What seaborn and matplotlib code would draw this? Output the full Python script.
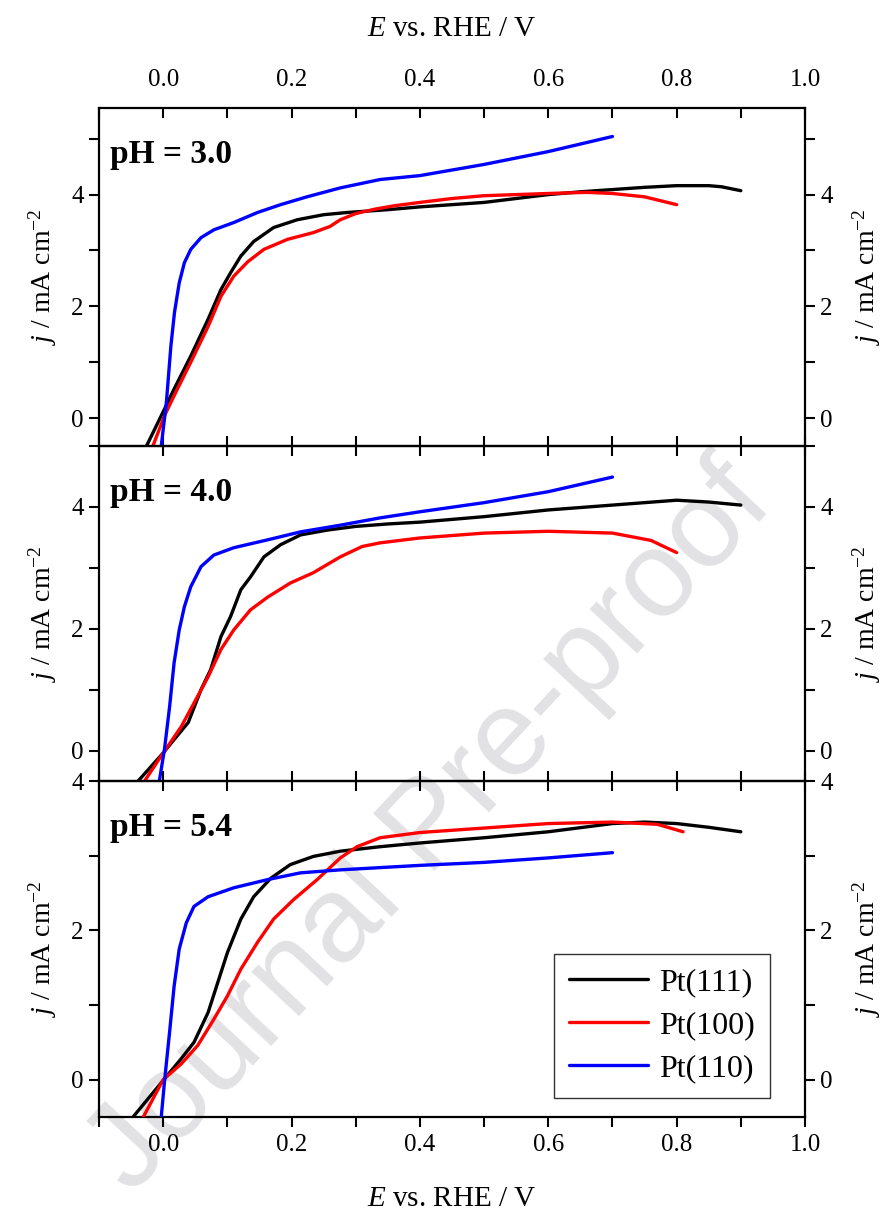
import numpy as np
import pandas as pd
import matplotlib
matplotlib.use("Agg")
import matplotlib.pyplot as plt
from matplotlib.ticker import MultipleLocator
import seaborn as sns

sns.set_theme(style="ticks")
plt.rcParams['font.family'] = ['Liberation Serif', 'DejaVu Serif']
plt.rcParams['mathtext.fontset'] = 'custom'
plt.rcParams['mathtext.rm'] = 'Liberation Serif'
plt.rcParams['mathtext.it'] = 'Liberation Serif:italic'
plt.rcParams['mathtext.bf'] = 'Liberation Serif:bold'
for key in ['text.color', 'axes.labelcolor', 'xtick.color', 'ytick.color', 'axes.edgecolor']:
    plt.rcParams[key] = 'black'

series_names = ["Pt(111)", "Pt(100)", "Pt(110)"]
series_colors = ["#000000", "#ff0000", "#0000ff"]
panel_titles = ["pH = 3.0", "pH = 4.0", "pH = 5.4"]

# ---- pH 3.0 ----
E_111_ph3 = [-0.026, 0.002, 0.017, 0.043, 0.07, 0.09, 0.105, 0.121, 0.141, 0.172, 0.209, 0.25, 0.287,
             0.35, 0.4, 0.45, 0.5, 0.55, 0.6, 0.65, 0.7, 0.75, 0.8, 0.85, 0.87, 0.9]
j_111_ph3 = [-0.5, 0.16, 0.52, 1.11, 1.77, 2.3, 2.6, 2.9, 3.16, 3.41, 3.55, 3.64, 3.68,
             3.73, 3.78, 3.82, 3.86, 3.93, 4.0, 4.05, 4.09, 4.13, 4.16, 4.16, 4.14, 4.07]
E_100_ph3 = [-0.016, 0.002, 0.017, 0.043, 0.07, 0.09, 0.11, 0.132, 0.157, 0.194, 0.234, 0.26, 0.276,
             0.3, 0.33, 0.36, 0.4, 0.45, 0.5, 0.55, 0.6, 0.66, 0.7, 0.75, 0.8]
j_100_ph3 = [-0.5, 0.04, 0.4, 1.0, 1.64, 2.18, 2.54, 2.8, 3.02, 3.2, 3.32, 3.43, 3.55,
             3.66, 3.74, 3.8, 3.86, 3.93, 3.98, 4.0, 4.02, 4.04, 4.02, 3.96, 3.82]
E_110_ph3 = [-0.003, 0.005, 0.012, 0.0176, 0.025, 0.033, 0.043, 0.059, 0.079, 0.11, 0.147, 0.183,
             0.224, 0.276, 0.338, 0.4, 0.5, 0.6, 0.7]
j_110_ph3 = [-0.5, 0.28, 1.29, 1.89, 2.42, 2.78, 3.02, 3.23, 3.37, 3.5, 3.68, 3.82,
             3.96, 4.12, 4.27, 4.34, 4.54, 4.77, 5.04]

# ---- pH 4.0 ----
E_111_ph4 = [-0.039, 0.0, 0.017, 0.039, 0.059, 0.074, 0.09, 0.105, 0.121, 0.136, 0.157, 0.183, 0.214,
             0.256, 0.3, 0.35, 0.4, 0.5, 0.6, 0.7, 0.8, 0.85, 0.9]
j_111_ph4 = [-0.5, -0.04, 0.18, 0.46, 1.0, 1.33, 1.87, 2.2, 2.64, 2.85, 3.18, 3.38, 3.54,
             3.62, 3.68, 3.72, 3.75, 3.84, 3.95, 4.03, 4.11, 4.08, 4.03]
E_100_ph4 = [-0.029, 0.0, 0.028, 0.048, 0.07, 0.09, 0.11, 0.136, 0.163, 0.198, 0.234, 0.276, 0.31,
             0.338, 0.4, 0.5, 0.6, 0.7, 0.76, 0.8]
j_100_ph4 = [-0.5, -0.04, 0.39, 0.78, 1.21, 1.66, 1.98, 2.31, 2.52, 2.75, 2.92, 3.18, 3.35,
             3.41, 3.49, 3.57, 3.6, 3.57, 3.45, 3.25]
E_110_ph4 = [-0.006, 0.002, 0.01, 0.017, 0.025, 0.033, 0.043, 0.059, 0.079, 0.11, 0.163, 0.214,
             0.276, 0.338, 0.4, 0.5, 0.6, 0.7]
j_110_ph4 = [-0.5, 0.02, 0.72, 1.44, 1.98, 2.36, 2.69, 3.02, 3.21, 3.33, 3.46, 3.59,
             3.7, 3.82, 3.92, 4.07, 4.25, 4.49]

# ---- pH 5.4 ----
E_111_ph5 = [-0.047, 0.0, 0.028, 0.048, 0.07, 0.085, 0.1, 0.121, 0.141, 0.168, 0.198, 0.234, 0.276,
             0.338, 0.4, 0.5, 0.6, 0.7, 0.75, 0.8, 0.85, 0.9]
j_111_ph5 = [-0.5, -0.01, 0.28, 0.5, 0.9, 1.3, 1.7, 2.15, 2.45, 2.7, 2.88, 2.99, 3.06,
             3.12, 3.17, 3.24, 3.32, 3.43, 3.45, 3.43, 3.38, 3.32]
E_100_ph5 = [-0.031, 0.0, 0.028, 0.054, 0.079, 0.1, 0.121, 0.147, 0.172, 0.203, 0.24, 0.276, 0.302,
             0.338, 0.4, 0.5, 0.6, 0.7, 0.77, 0.81]
j_100_ph5 = [-0.5, 0.0, 0.21, 0.46, 0.81, 1.12, 1.48, 1.84, 2.15, 2.41, 2.68, 2.97, 3.12,
             3.24, 3.31, 3.37, 3.43, 3.45, 3.42, 3.32]
E_110_ph5 = [-0.003, 0.002, 0.01, 0.017, 0.025, 0.036, 0.048, 0.07, 0.11, 0.163, 0.214, 0.276,
             0.338, 0.4, 0.5, 0.6, 0.7]
j_110_ph5 = [-0.5, -0.03, 0.64, 1.25, 1.75, 2.1, 2.32, 2.45, 2.57, 2.68, 2.77, 2.81,
             2.84, 2.87, 2.91, 2.97, 3.04]

panels = [
    [(E_111_ph3, j_111_ph3), (E_100_ph3, j_100_ph3), (E_110_ph3, j_110_ph3)],
    [(E_111_ph4, j_111_ph4), (E_100_ph4, j_100_ph4), (E_110_ph4, j_110_ph4)],
    [(E_111_ph5, j_111_ph5), (E_100_ph5, j_100_ph5), (E_110_ph5, j_110_ph5)],
]
ylims = [(-0.5, 5.55), (-0.5, 5.0), (-0.5, 4.0)]
x_ticks = [0.0, 0.2, 0.4, 0.6, 0.8, 1.0]

fig = plt.figure(figsize=(8.88, 12.18), dpi=100)
W, H = 888, 1218
left_px, right_px = 99, 805
tops = [108, 446, 781]
bots = [446, 781, 1117]

TICK_FS = 18
LABEL_FS = 20
ylabel = r"$j$ / mA cm$^{-2}$"
axes = []
for i in range(3):
    ax = fig.add_axes([left_px / W, 1 - bots[i] / H, (right_px - left_px) / W, (bots[i] - tops[i]) / H])
    ax.set_facecolor("none")
    axes.append(ax)
    for k, (E, j) in enumerate(panels[i]):
        df = pd.DataFrame({"E": E, "j": j})
        sns.lineplot(data=df, x="E", y="j", sort=False, ax=ax, color=series_colors[k],
                     lw=2.4, label=series_names[k] if i == 2 else None, legend=False, zorder=3)
    ax.set_xlim(-0.1, 1.0)
    ax.set_ylim(*ylims[i])
    ax.xaxis.set_major_locator(MultipleLocator(0.2))
    ax.xaxis.set_minor_locator(MultipleLocator(0.1))
    ax.yaxis.set_major_locator(MultipleLocator(2))
    ax.yaxis.set_minor_locator(MultipleLocator(1))
    for s in ax.spines.values():
        s.set_linewidth(1.6)
        s.set_color("black")
    ax.tick_params(axis='y', which='both', direction='out', length=7, width=1.5,
                   left=True, right=True, labelleft=True, labelright=True,
                   labelsize=TICK_FS, pad=4)
    ax.set_ylabel(ylabel, fontsize=LABEL_FS, labelpad=9)
    ax.text(0.016, 0.862, panel_titles[i], transform=ax.transAxes, fontsize=24,
            fontweight='bold', va='center', ha='left')
    if i == 0:
        ax.tick_params(axis='x', which='both', direction='in', length=7, width=1.5,
                       top=True, bottom=True, labeltop=True, labelbottom=False,
                       labelsize=TICK_FS, pad=12)
        ax.xaxis.set_label_position('top')
        ax.set_xlabel(r"$E$ vs. RHE / V", fontsize=LABEL_FS + 1, labelpad=24)
    elif i == 1:
        ax.tick_params(axis='x', which='both', direction='in', length=7, width=1.5,
                       top=True, bottom=True, labeltop=False, labelbottom=False)
        ax.set_xlabel("")
    else:
        ax.tick_params(axis='x', which='both', direction='out', length=7, width=1.5,
                       top=False, bottom=True, labelbottom=True, labelsize=TICK_FS, pad=5)
        ax.set_xticks(x_ticks)
        ax.set_xticklabels([f"{v:.1f}" for v in x_ticks])
        ax.set_xlabel(r"$E$ vs. RHE / V", fontsize=LABEL_FS + 1, labelpad=22)
        sec = ax.secondary_xaxis('top')
        sec.xaxis.set_major_locator(MultipleLocator(0.2))
        sec.xaxis.set_minor_locator(MultipleLocator(0.1))
        sec.tick_params(axis='x', which='both', direction='in', length=7, width=1.5,
                        labeltop=False)
        sec.spines['top'].set_visible(False)
    ax.text(1.088, 0.5, ylabel, transform=ax.transAxes, rotation=90,
            fontsize=LABEL_FS, va='center', ha='center')
    ax.set_yticks([0, 2, 4])
    ax.set_yticklabels(["0", "2", "4"])

leg = axes[2].legend(loc='lower right', bbox_to_anchor=(0.95, 0.058), fontsize=23,
                     frameon=True, fancybox=False, edgecolor='black',
                     handlelength=2.5, handletextpad=0.35, borderpad=0.45, labelspacing=0.42,
                     borderaxespad=0.0)
leg.get_frame().set_linewidth(1.0)
for line in leg.get_lines():
    line.set_linewidth(2.4)

fig.text(0.485, 0.32, "Journal Pre-proof", rotation=47, fontsize=88,
         color="#e2e2e4", family="Liberation Sans", ha='center', va='center', zorder=-1)

fig.savefig("out.png", dpi=100, facecolor="white")
